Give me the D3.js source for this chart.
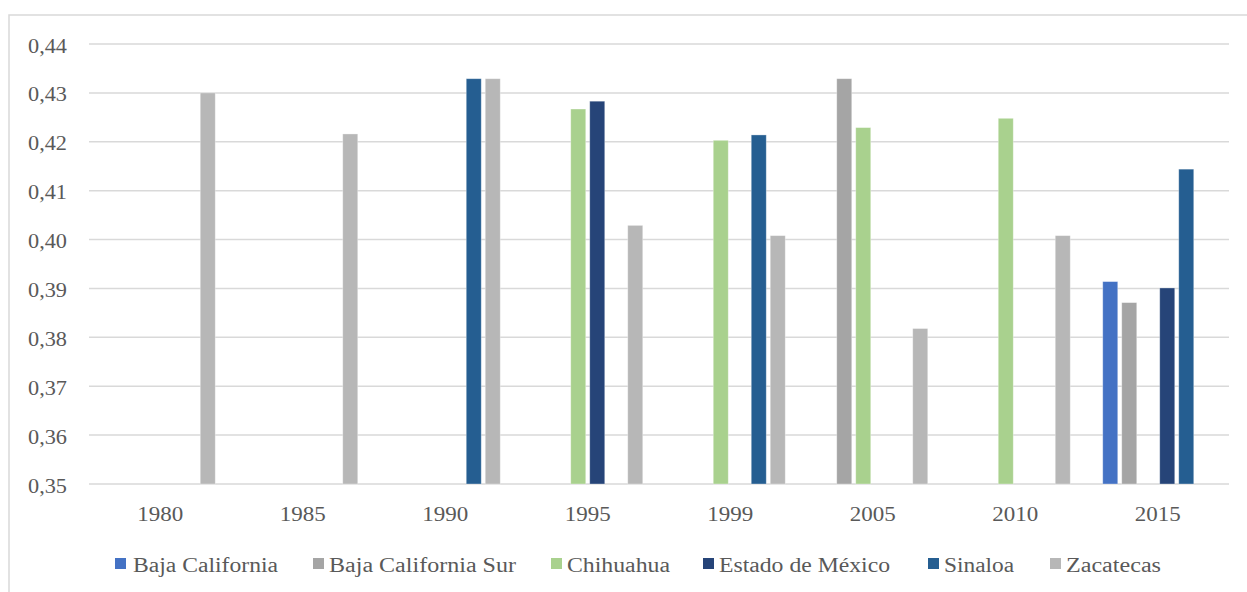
<!DOCTYPE html>
<html>
<head>
<meta charset="utf-8">
<script src="https://cdn.jsdelivr.net/npm/d3@7"></script>
<style>
  body { margin: 0; background: #fff; }
  svg text { font-family: "Liberation Serif", "DejaVu Serif", serif; fill: #595959; }
</style>
</head>
<body>
<svg id="chart" width="1247" height="592"></svg>
<script>
// categories (years on the x axis)
var years = ["1980", "1985", "1990", "1995", "1999", "2005", "2010", "2015"];

var seriesNames = ["Baja California", "Baja California Sur", "Chihuahua",
                   "Estado de México", "Sinaloa", "Zacatecas"];
var seriesColors = ["#4472C4", "#A5A5A5", "#A9D18E", "#264478", "#255E91", "#B7B7B7"];

// values per state, null where no bar
var bajaCalifornia    = [null, null, null, null, null, null, null, 0.3914];
var bajaCaliforniaSur = [null, null, null, null, null, 0.4329, null, 0.3871];
var chihuahua         = [null, null, null, 0.4267, 0.4203, 0.4229, 0.4248, null];
var estadoMexico      = [null, null, null, 0.4283, null, null, null, 0.3901];
var sinaloa           = [null, null, 0.4329, null, 0.4214, null, null, 0.4144];
var zacatecas         = [0.4300, 0.4216, 0.4329, 0.4029, 0.4008, 0.3818, 0.4008, null];

var yTicks = [0.35, 0.36, 0.37, 0.38, 0.39, 0.40, 0.41, 0.42, 0.43, 0.44];

var allSeries = [bajaCalifornia, bajaCaliforniaSur, chihuahua, estadoMexico, sinaloa, zacatecas];

var svg = d3.select("#chart");
var serif = "'Liberation Serif', 'DejaVu Serif', serif";

var plotLeft = 89, plotRight = 1229, plotTop = 44, plotBottom = 484;

// chart frame (right and bottom edges fall outside the picture)
svg.append("rect")
    .attr("x", 9).attr("y", 15)
    .attr("width", 1300).attr("height", 700)
    .style("fill", "none")
    .style("stroke", "#D9D9D9")
    .style("stroke-width", 1.5);

var x0 = d3.scaleBand().domain(years).range([plotLeft, plotRight]);
var x1 = d3.scaleBand().domain(d3.range(seriesNames.length))
    .range([0, x0.bandwidth()])
    .paddingInner(0.21)
    .paddingOuter(0.855);
var y = d3.scaleLinear().domain([0.35, 0.44]).range([plotBottom, plotTop]);

var fmt = function (v) { return d3.format(".2f")(v).replace(".", ","); };

// gridlines
svg.append("g").selectAll("line")
    .data(yTicks)
    .enter().append("line")
    .attr("x1", plotLeft).attr("x2", plotRight)
    .attr("y1", function (d) { return y(d); })
    .attr("y2", function (d) { return y(d); })
    .style("stroke", "#D9D9D9")
    .style("stroke-width", 1.5);

// y labels
svg.append("g").selectAll("text")
    .data(yTicks)
    .enter().append("text")
    .attr("x", 28)
    .attr("y", function (d) { return y(d) + 8.5; })
    .attr("textLength", 39)
    .attr("lengthAdjust", "spacingAndGlyphs")
    .style("font-family", serif)
    .style("font-size", "20px")
    .text(fmt);

// bars
allSeries.forEach(function (vals, s) {
    svg.append("g").selectAll("rect")
        .data(vals.map(function (v, i) { return {year: years[i], v: v}; })
                  .filter(function (d) { return d.v !== null; }))
        .enter().append("rect")
        .attr("x", function (d) { return x0(d.year) + x1(s); })
        .attr("width", x1.bandwidth())
        .attr("y", function (d) { return y(d.v); })
        .attr("height", function (d) { return y(0.35) - y(d.v); })
        .style("fill", seriesColors[s])
        .style("stroke", "#ffffff")
        .style("stroke-opacity", 0.4)
        .style("stroke-width", 0.8);
});

// x labels
svg.append("g").selectAll("text")
    .data(years)
    .enter().append("text")
    .attr("x", function (d) { return x0(d) + x0.bandwidth() / 2 - 23; })
    .attr("y", 521)
    .attr("textLength", 46)
    .attr("lengthAdjust", "spacingAndGlyphs")
    .style("font-family", serif)
    .style("font-size", "20px")
    .text(function (d) { return d; });

// legend: marker x and text width of each entry
var legendX = [115, 313, 551, 703, 928, 1050];
var legendW = [145, 187, 103, 171, 70, 95];
var legend = svg.append("g").selectAll("g")
    .data(seriesNames)
    .enter().append("g")
    .attr("transform", function (d, i) { return "translate(" + legendX[i] + ",558)"; });

legend.append("rect")
    .attr("width", 11).attr("height", 11)
    .style("fill", function (d, i) { return seriesColors[i]; });

legend.append("text")
    .attr("x", function (d, i) { return i === 0 ? 18 : 16; })
    .attr("y", 14)
    .attr("textLength", function (d, i) { return legendW[i]; })
    .attr("lengthAdjust", "spacingAndGlyphs")
    .style("font-family", serif)
    .style("font-size", "20px")
    .text(function (d) { return d; });
</script>
</body>
</html>
